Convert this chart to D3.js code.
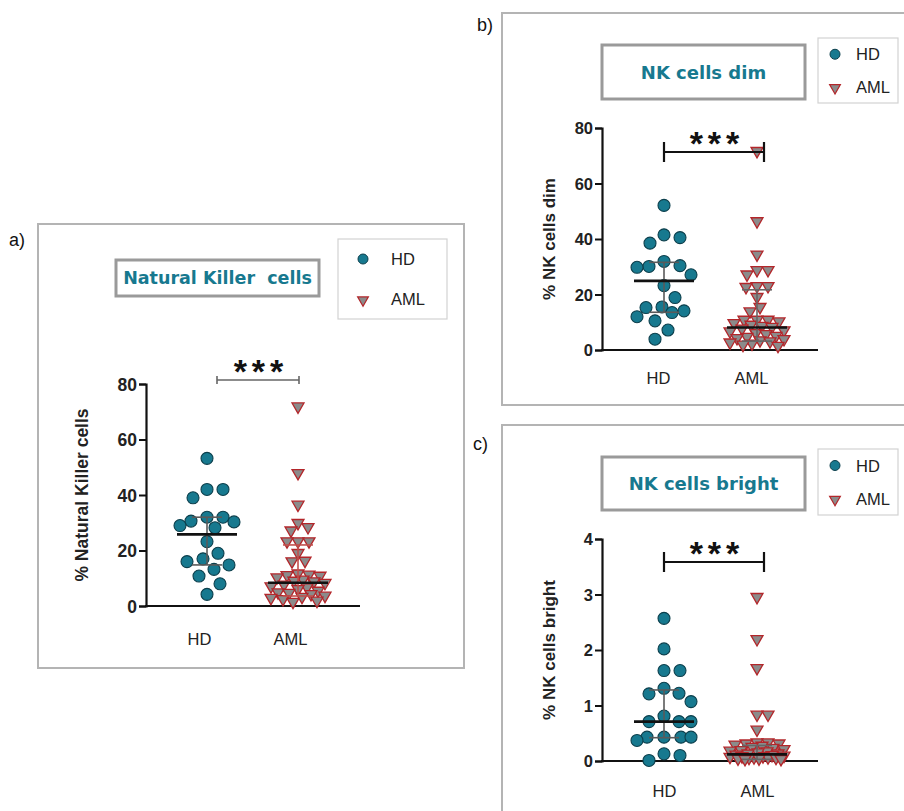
<!DOCTYPE html>
<html>
<head>
<meta charset="utf-8">
<script src="https://cdnjs.cloudflare.com/ajax/libs/d3/7.8.5/d3.min.js"></script>
<style>
  body { margin: 0; background: #fff; }
  svg { display: block; font-family: "Liberation Sans", Arial, sans-serif; }
</style>
</head>
<body>
<svg id="fig" width="904" height="811"></svg>
<script>
// groups
var categories = ["HD", "AML"];

// a) Natural Killer cells (% values)
var nkHD = [53.2, 42, 42, 39, 32, 32, 30.6, 30.3, 29, 28.2, 23.2, 19, 17, 16, 14.8, 13.2, 10.8, 8, 4.2];
var nkAML = [71.2, 47.2, 35.8, 29.2, 27.7, 26.5, 22.6, 22.6, 22.6, 18.4, 15.6, 15.4, 11, 10.6, 10.4, 10.2,
             9.6, 8.8, 8.4, 8.2, 7.6, 7.0, 6.4, 6.0, 5.4, 4.8, 4.2, 4.0, 3.6, 3.0, 2.6, 2.2, 1.8, 1.2, 0.8];
var nkStats = { HD: [14.8, 25.8, 32], AML: [3.6, 8.4, 22] };  // q1, median, q3

// b) NK cells dim
var dimHD = [52.1, 41.5, 40.5, 38.5, 31.9, 30.4, 30.1, 29.8, 27.1, 23.2, 18.9, 15.5, 15.3, 14.1, 13.5, 12.0, 10.5, 7.2, 3.9];
var dimAML = [71, 45.7, 33.7, 28.1, 28.1, 26.5, 22.3, 22.3, 22, 18.4, 14.8, 13.2, 10.2, 10.2, 10.2, 9.6,
              9, 8.4, 8, 7.6, 7, 6.4, 6, 5.4, 5, 4.4, 4, 3.6, 3.2, 2.8, 2.4, 2, 1.6, 1.2, 0.8];
var dimStats = { HD: [13.6, 24.9, 31.6], AML: [3.2, 8.1, 21.7] };

// c) NK cells bright
var brHD = [2.57, 2.02, 1.63, 1.63, 1.31, 1.22, 1.21, 1.07, 0.81, 0.71, 0.71, 0.71, 0.43, 0.43, 0.43, 0.43, 0.37, 0.13, 0.10, 0.01];
var brAML = [2.92, 2.16, 1.64, 0.80, 0.80, 0.53, 0.30, 0.30, 0.28, 0.28, 0.26, 0.24, 0.22, 0.2, 0.18, 0.16, 0.15, 0.14,
             0.12, 0.1, 0.1, 0.08, 0.07, 0.06, 0.05, 0.05, 0.04, 0.03, 0.03, 0.02, 0.02, 0.01, 0.01, 0.0, 0.0];
var brStats = { HD: [0.42, 0.71, 1.28], AML: [0.03, 0.12, 0.28] };

var yTicksPct = [0, 20, 40, 60, 80];
var yTicksBright = [0, 1, 2, 3, 4];

var TEAL = "#17798f", TEAL_DARK = "#0c3f4c", GREY = "#8b8b8b", RED = "#b3262a";

var svg = d3.select("#fig");

// column scatter placement, spread sideways when values collide
function swarm(vals, y, cx, gap, maxOff) {
  var placed = [];
  var order = vals.map(function(v, i) { return i; }).sort(function(a, b) { return vals[b] - vals[a]; });
  var out = new Array(vals.length);
  order.forEach(function(i) {
    var py = y(vals[i]);
    var best = null, bestD = -1;
    for (var k = 0; k <= 2 * maxOff; k++) {
      var off = (k % 2 ? 1 : -1) * Math.ceil(k / 2);
      var dmin = Infinity;
      placed.forEach(function(p) {
        var d = Math.hypot(p[0] - (cx + off), p[1] - py);
        if (d < dmin) dmin = d;
      });
      if (dmin >= gap) { best = off; break; }
      if (dmin > bestD) { bestD = dmin; best = off; }
    }
    placed.push([cx + best, py]);
    out[i] = [cx + best, py];
  });
  return out;
}

function drawPanel(cfg) {
  var g = svg.append("g");

  // panel frame
  g.append("rect").attr("x", cfg.box[0]).attr("y", cfg.box[1])
    .attr("width", cfg.box[2] - cfg.box[0]).attr("height", cfg.box[3] - cfg.box[1])
    .attr("fill", "none").attr("stroke", "#b4b4b4").attr("stroke-width", 2);
  g.append("text").attr("x", cfg.label[0]).attr("y", cfg.label[1])
    .attr("font-size", 18).attr("fill", "#111").text(cfg.letter);

  // title box
  var tb = cfg.titleBox;
  g.append("rect").attr("x", tb[0]).attr("y", tb[1]).attr("width", tb[2] - tb[0]).attr("height", tb[3] - tb[1])
    .attr("fill", "#fff").attr("stroke", "#9a9a9a").attr("stroke-width", 3);
  g.append("text").attr("x", (tb[0] + tb[2]) / 2).attr("y", (tb[1] + tb[3]) / 2 + cfg.titleSize * 0.37)
    .attr("text-anchor", "middle").attr("font-weight", "bold").attr("font-size", cfg.titleSize)
    .attr("font-family", "DejaVu Sans, Verdana, sans-serif")
    .attr("fill", TEAL).style("white-space", "pre").text(cfg.title);

  // legend
  var lb = cfg.legend;
  g.append("rect").attr("x", lb[0]).attr("y", lb[1]).attr("width", lb[2] - lb[0]).attr("height", lb[3] - lb[1])
    .attr("fill", "#fff").attr("stroke", "#d2d2d2").attr("stroke-width", 1.2);
  var ly1 = lb[1] + (lb[3] - lb[1]) * 0.25, ly2 = lb[1] + (lb[3] - lb[1]) * 0.75;
  var lmx = lb[0] + cfg.legendMarkX, ltx = lb[0] + cfg.legendTextX;
  g.append("circle").attr("cx", lmx).attr("cy", ly1).attr("r", 5)
    .attr("fill", TEAL).attr("stroke", TEAL_DARK).attr("stroke-width", 1);
  g.append("path").attr("d", d3.symbol(d3.symbolTriangle, 50)())
    .attr("transform", "translate(" + lmx + "," + (ly2 + 1) + ") rotate(180)")
    .attr("fill", GREY).attr("stroke", RED).attr("stroke-width", 1.2);
  g.append("text").attr("x", ltx).attr("y", ly1 + 6).attr("font-size", 16.5).attr("fill", "#222").text(categories[0]);
  g.append("text").attr("x", ltx).attr("y", ly2 + 6).attr("font-size", 16.5).attr("fill", "#222").text(categories[1]);

  // scales
  var y = d3.scaleLinear().domain(cfg.domain).range([cfg.y0, cfg.yTop]);
  var x = d3.scalePoint().domain(categories).range([cfg.hdX, cfg.amlX]);

  // axes
  var ya = g.append("g").attr("transform", "translate(" + cfg.x0 + ",0)")
    .call(d3.axisLeft(y).tickValues(cfg.ticks).tickSize(7).tickPadding(2).tickFormat(d3.format("d")));
  ya.select(".domain").attr("stroke", "#111").attr("stroke-width", 2.2);
  ya.selectAll(".tick line").attr("stroke", "#111").attr("stroke-width", 2);
  ya.selectAll(".tick text").attr("font-size", cfg.tickSize).attr("font-weight", "bold").attr("fill", "#222")
    .attr("dy", "0.36em").attr("font-family", "Liberation Sans, Arial, sans-serif");

  g.append("line").attr("x1", cfg.x0 - 1).attr("x2", cfg.xEnd).attr("y1", cfg.y0).attr("y2", cfg.y0)
    .attr("stroke", "#111").attr("stroke-width", 2.2);

  var xa = g.append("g").attr("transform", "translate(" + cfg.xLabelShift + "," + cfg.y0 + ")")
    .call(d3.axisBottom(x).tickSize(0).tickPadding(cfg.xLabelPad));
  xa.select(".domain").remove();
  xa.selectAll(".tick text").attr("font-size", 16.5).attr("fill", "#222")
    .attr("font-family", "Liberation Sans, Arial, sans-serif");

  g.append("text")
    .attr("transform", "translate(" + cfg.yTitleX + "," + (cfg.y0 + cfg.yTop) / 2 + ") rotate(-90)")
    .attr("text-anchor", "middle").attr("font-size", cfg.yTitleSize).attr("font-weight", "bold").attr("fill", "#222")
    .text(cfg.yTitle);

  // points
  var r = 6;
  var hdPos = swarm(cfg.hd, y, x("HD"), 2 * r * 1.3, 27);
  var amlPos = swarm(cfg.aml, y, x("AML"), 2 * r * 0.85, 27);

  g.append("g").selectAll("circle").data(hdPos).join("circle")
    .attr("cx", function(d) { return d[0]; }).attr("cy", function(d) { return d[1]; }).attr("r", r)
    .attr("fill", TEAL).attr("stroke", TEAL_DARK).attr("stroke-width", 1.1);

  var tri = d3.symbol(d3.symbolTriangle, 62)();
  g.append("g").selectAll("path").data(amlPos).join("path")
    .attr("d", tri)
    .attr("transform", function(d) { return "translate(" + d[0] + "," + (d[1] - 2) + ") rotate(180)"; })
    .attr("fill", GREY).attr("stroke", RED).attr("stroke-width", 1.3);

  // median with interquartile range, drawn over the points
  categories.forEach(function(cat) {
    var s = cfg.stats[cat], cx = x(cat);
    var col = cat === "HD" ? "#5a5a5a" : cfg.amlBarColor;
    g.append("line").attr("x1", cx).attr("x2", cx).attr("y1", y(s[0])).attr("y2", y(s[2]))
      .attr("stroke", col).attr("stroke-width", 1.6);
    [s[0], s[2]].forEach(function(v) {
      g.append("line").attr("x1", cx - 15).attr("x2", cx + 15).attr("y1", y(v)).attr("y2", y(v))
        .attr("stroke", col).attr("stroke-width", 1.6);
    });
    g.append("line").attr("x1", cx - 30).attr("x2", cx + 30).attr("y1", y(s[1])).attr("y2", y(s[1]))
      .attr("stroke", "#111").attr("stroke-width", 2.6);
  });

  // significance bracket
  var sb = cfg.sig;
  g.append("line").attr("x1", sb.x1).attr("x2", sb.x2).attr("y1", sb.y).attr("y2", sb.y)
    .attr("stroke", sb.color).attr("stroke-width", sb.w);
  [sb.x1, sb.x2].forEach(function(xx) {
    g.append("line").attr("x1", xx).attr("x2", xx).attr("y1", sb.y - sb.tick).attr("y2", sb.y + sb.tick)
      .attr("stroke", sb.color).attr("stroke-width", sb.w);
  });
  g.append("text").attr("x", (sb.x1 + sb.x2) / 2 + 3).attr("y", sb.y + 3).attr("text-anchor", "middle")
    .attr("font-size", 34).attr("font-weight", "bold").attr("fill", "#111").attr("letter-spacing", 5)
    .text("***");
}

drawPanel({
  letter: "a)", label: [9, 246], box: [38, 224, 464, 668],
  titleBox: [116, 260, 319, 296], title: "Natural Killer  cells", titleSize: 17.5,
  legend: [338, 239, 447, 319], legendMarkX: 25, legendTextX: 53,
  x0: 146, y0: 606, yTop: 384, xEnd: 360, hdX: 207, amlX: 298, xLabelShift: -8, xLabelPad: 27,
  domain: [0, 80], ticks: yTicksPct, tickSize: 17.5, yTitle: "% Natural Killer cells", yTitleX: 88, yTitleSize: 17.5,
  hd: nkHD, aml: nkAML, stats: nkStats, amlBarColor: "#c0504d",
  sig: { x1: 217, x2: 299, y: 380, tick: 4, color: "#666", w: 1.6 }
});

drawPanel({
  letter: "b)", label: [477, 31], box: [502, 13, 906, 405],
  titleBox: [602, 45, 805, 99], title: "NK cells dim", titleSize: 18,
  legend: [818, 38, 898, 103], legendMarkX: 17, legendTextX: 38,
  x0: 602, y0: 350, yTop: 128, xEnd: 818, hdX: 664, amlX: 757, xLabelShift: -6, xLabelPad: 22,
  domain: [0, 80], ticks: yTicksPct, tickSize: 16.5, yTitle: "% NK cells dim", yTitleX: 555, yTitleSize: 17,
  hd: dimHD, aml: dimAML, stats: dimStats, amlBarColor: "#666",
  sig: { x1: 664, x2: 764, y: 152, tick: 10, color: "#111", w: 2.2 }
});

drawPanel({
  letter: "c)", label: [473, 450], box: [502, 425, 906, 813],
  titleBox: [602, 457, 805, 510], title: "NK cells bright", titleSize: 18,
  legend: [818, 449, 898, 515], legendMarkX: 17, legendTextX: 38,
  x0: 602, y0: 761, yTop: 539, xEnd: 818, hdX: 664, amlX: 757, xLabelShift: 0, xLabelPad: 24,
  domain: [0, 4], ticks: yTicksBright, tickSize: 16.5, yTitle: "% NK cells bright", yTitleX: 555, yTitleSize: 17,
  hd: brHD, aml: brAML, stats: brStats, amlBarColor: "#666",
  sig: { x1: 664, x2: 764, y: 562, tick: 10, color: "#111", w: 2.2 }
});
</script>
</body>
</html>
